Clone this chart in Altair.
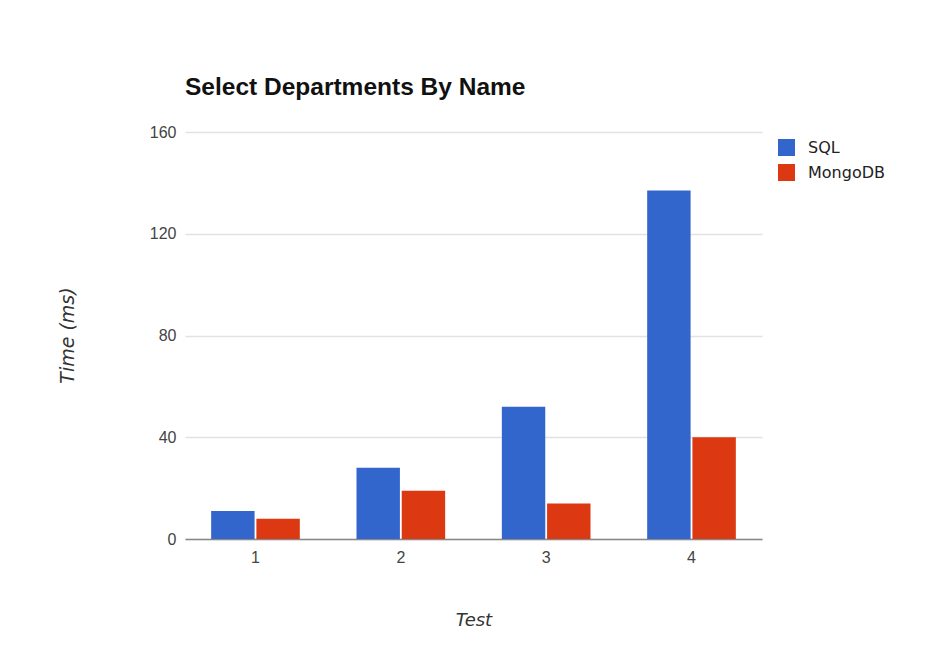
import altair as alt
import pandas as pd

tests = ["1", "2", "3", "4"]
sql_values = [11, 28, 52, 137]
mongo_values = [8, 19, 14, 40]
series_names = ["SQL", "MongoDB"]
series_colors = ["#3366cc", "#dc3912"]

rows = []
for t, s, m in zip(tests, sql_values, mongo_values):
    rows.append({"Test": t, "Series": "SQL", "Time": s})
    rows.append({"Test": t, "Series": "MongoDB", "Time": m})
df = pd.DataFrame(rows)

FONT = "Liberation Sans"
WIDE = "DejaVu Sans"

chart = alt.Chart(df).mark_bar().encode(
    x=alt.X(
        "Test:N",
        sort=tests,
        scale=alt.Scale(paddingInner=0.39, paddingOuter=0.18),
        axis=alt.Axis(
            title="Test",
            labelAngle=0,
            labelFontSize=16,
            labelColor="#444444",
            labelFont=FONT,
            labelPadding=10,
            ticks=False,
            domain=True,
            domainColor="#888888",
            domainWidth=1.5,
            titleFont=WIDE,
            titleFontSize=18,
            titleFontStyle="italic",
            titleFontWeight="normal",
            titleColor="#333333",
            titleY=81,
            titleBaseline="middle",
        ),
    ),
    xOffset=alt.XOffset("Series:N", sort=series_names, scale=alt.Scale(paddingInner=0.04)),
    y=alt.Y(
        "Time:Q",
        scale=alt.Scale(domain=[0, 160], nice=False),
        axis=alt.Axis(
            title="Time (ms)",
            values=[0, 40, 80, 120, 160],
            labelFontSize=16,
            labelColor="#444444",
            labelFont=FONT,
            labelPadding=9,
            ticks=False,
            domain=False,
            grid=True,
            gridColor="#e2e2e2",
            gridWidth=1.5,
            titleFont=WIDE,
            titleFontSize=19,
            titleFontStyle="italic",
            titleFontWeight="normal",
            titleColor="#333333",
            titleX=-118,
            titleY=203,
            titleBaseline="middle",
        ),
    ),
    color=alt.Color(
        "Series:N",
        sort=series_names,
        scale=alt.Scale(domain=series_names, range=series_colors),
        legend=alt.Legend(
            title=None,
            orient="none",
            legendX=593,
            legendY=7,
            symbolType="square",
            symbolSize=289,
            symbolStrokeWidth=0,
            labelFontSize=16,
            labelFont=WIDE,
            labelColor="#222222",
            labelOffset=13,
            rowPadding=8,
        ),
    ),
).properties(
    width=577,
    height=407,
    title=alt.Title(
        "Select Departments By Name",
        anchor="start",
        frame="group",
        font=FONT,
        fontSize=24.5,
        fontWeight="bold",
        color="#111111",
        offset=24,
    ),
    autosize=alt.AutoSizeParams(type="none"),
    padding={"left": 185, "top": 132, "right": 179, "bottom": 128},
).configure(
    background="white",
    view=alt.ViewConfig(stroke=None),
)

chart.save("out.html", embed_options={"renderer": "svg", "actions": False})
